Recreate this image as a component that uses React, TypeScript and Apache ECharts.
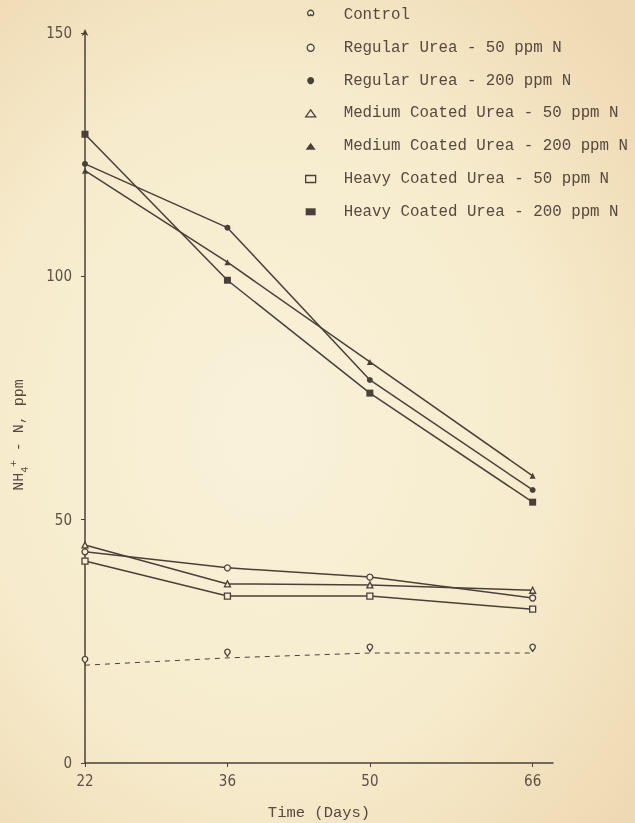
import React, { useEffect, useRef } from 'react';
import * as echarts from 'echarts';

const days = [22, 36, 50, 66];
const xTickValues = [22, 36, 50, 66];
const yTickValues = [0, 50, 100, 150];

const seriesNames = [
  'Control',
  'Regular Urea - 50 ppm N',
  'Regular Urea - 200 ppm N',
  'Medium Coated Urea - 50 ppm N',
  'Medium Coated Urea - 200 ppm N',
  'Heavy Coated Urea - 50 ppm N',
  'Heavy Coated Urea - 200 ppm N',
];

const control = [20.1, 21.6, 22.6, 22.6];
const regular50 = [43.4, 40.1, 38.2, 33.9];
const regular200 = [123.1, 110.0, 78.7, 56.1];
const medium50 = [44.8, 36.8, 36.6, 35.5];
const medium200 = [121.7, 102.9, 82.4, 59.0];
const heavy50 = [41.5, 34.3, 34.3, 31.6];
const heavy200 = [129.2, 99.2, 76.0, 53.6];

const seriesValues = [control, regular50, regular200, medium50, medium200, heavy50, heavy200];
const symbols = ['pin', 'circle', 'circle', 'triangle', 'triangle', 'rect', 'rect'];
const hollow = [true, true, false, true, false, true, false];
const symbolSizes = [9, 6, 6, 6, 6, 6, 7];

const INK = '#4a403b';
const LABEL = '#5c4f47';
const PAPER = '#f7eed3';
const MONO = '"Liberation Mono", "DejaVu Sans Mono", monospace';
const SANS = '"DejaVu Sans Condensed", "Liberation Sans Narrow", "DejaVu Sans", sans-serif';

export default function App() {
  const ref = useRef<HTMLDivElement>(null);

  useEffect(() => {
    if (!ref.current) return;
    const chart = echarts.init(ref.current, null, { renderer: 'svg' });

    const series = seriesNames.map((name, i) => ({
      name,
      type: 'line',
      data: days.map((d, j) => [d, seriesValues[i][j]]),
      symbol: symbols[i],
      symbolSize: symbolSizes[i],
      symbolOffset: i === 0 ? [0, -1] : [0, 0],
      showSymbol: true,
      lineStyle: {
        color: INK,
        width: i === 0 ? 1 : 1.5,
        type: i === 0 ? [5, 5] : 'solid',
      },
      itemStyle: {
        color: hollow[i] ? PAPER : INK,
        borderColor: INK,
        borderWidth: hollow[i] ? 1.3 : 0,
      },
      emphasis: { disabled: true },
      z: 3,
    }));

    chart.setOption({
      animation: false,
      backgroundColor: 'transparent',
      grid: { left: 85, right: 82, top: 33, bottom: 60, containLabel: false, outerBoundsMode: 'none' },
      legend: {
        orient: 'vertical',
        left: 305,
        top: 7,
        padding: 0,
        itemWidth: 10,
        itemHeight: 7,
        itemGap: 16.8,
        selectedMode: false,
        textStyle: {
          fontFamily: MONO,
          fontSize: 15.8,
          lineHeight: 16,
          color: '#574840',
          padding: [0, 0, 0, 23],
        },
        data: seriesNames.map((name, i) => ({
          name,
          icon: symbols[i],
          itemStyle: {
            color: hollow[i] ? PAPER : INK,
            borderColor: INK,
            borderWidth: hollow[i] ? 1.3 : 0,
          },
        })),
      },
      xAxis: {
        type: 'value',
        min: 22,
        max: 68,
        name: 'Time (Days)',
        nameLocation: 'middle',
        nameGap: 42,
        nameTextStyle: { fontFamily: MONO, fontSize: 15.5, color: '#574840' },
        axisLine: { show: true, lineStyle: { color: INK, width: 1.5 } },
        axisTick: { show: true, length: 4, customValues: xTickValues, lineStyle: { color: INK } },
        axisLabel: {
          customValues: xTickValues,
          margin: 10,
          fontFamily: SANS,
          fontSize: 15,
          color: LABEL,
        },
        splitLine: { show: false },
      },
      yAxis: {
        type: 'value',
        min: 0,
        max: 150,
        interval: 50,
        axisLine: {
          show: true,
          symbol: ['none', 'arrow'],
          symbolSize: [5, 7],
          symbolOffset: [0, 4],
          lineStyle: { color: INK, width: 1.5 },
        },
        axisTick: { show: true, length: 4, lineStyle: { color: INK } },
        axisLabel: {
          customValues: yTickValues,
          margin: 13,
          fontFamily: SANS,
          fontSize: 15,
          color: LABEL,
        },
        splitLine: { show: false },
      },
      graphic: [
        {
          type: 'text',
          x: 19,
          y: 435,
          rotation: Math.PI / 2,
          style: {
            text: 'NH{sub|4}{sup|+} - N, ppm',
            fontFamily: MONO,
            fontSize: 15,
            fill: '#574840',
            align: 'center',
            verticalAlign: 'middle',
            lineHeight: 22,
            rich: {
              sub: { fontFamily: MONO, fontSize: 10, verticalAlign: 'bottom', lineHeight: 10, fill: '#574840' },
              sup: { fontFamily: MONO, fontSize: 11, verticalAlign: 'top', lineHeight: 10, fill: '#574840' },
            },
          },
        },
      ],
      series,
    });

    return () => chart.dispose();
  }, []);

  return (
    <div
      style={{
        position: 'fixed',
        left: 0,
        top: 0,
        width: 635,
        height: 823,
        background:
          'radial-gradient(ellipse 75% 70% at 42% 52%, #f9f2da 0%, #f6ebcc 60%, #efd9b2 100%)',
      }}
    >
      <div ref={ref} style={{ width: 635, height: 823 }} />
    </div>
  );
}
